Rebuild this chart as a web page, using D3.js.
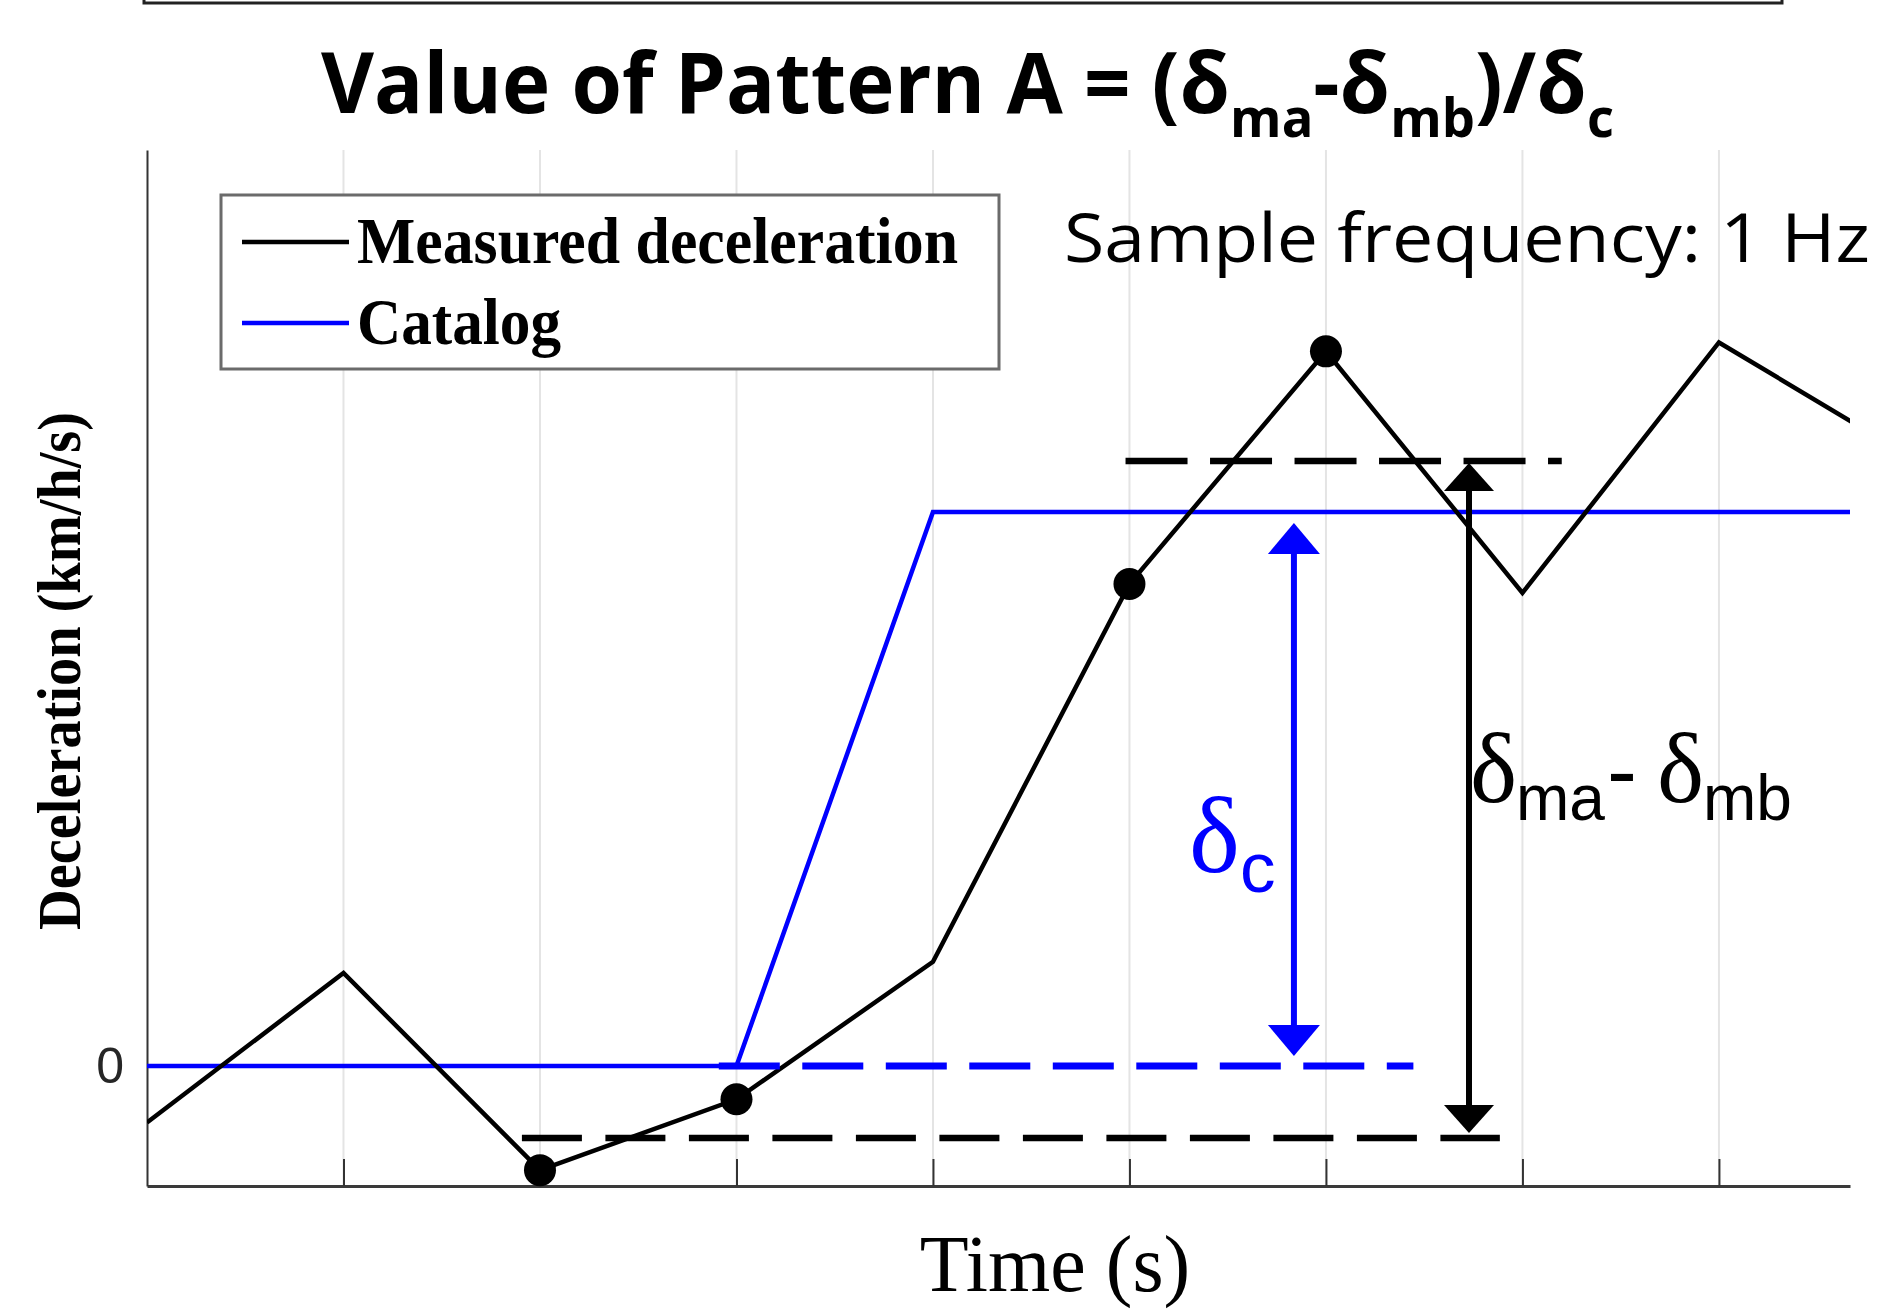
<!DOCTYPE html>
<html><head><meta charset="utf-8">
<script src="https://cdn.jsdelivr.net/npm/d3@7"></script>
<style>body{margin:0;background:#fff} svg{display:block}</style>
</head><body>
<svg id="c" width="1877" height="1310"></svg>
<script>
// ---- data ----
const times = [0, 1, 2, 3, 4, 5, 6, 7, 8, 9];
const measured = [-0.51, 0.84, -0.94, -0.30, 0.94, 4.35, 6.45, 4.27, 6.53, 5.47];
const markerTimes = [2, 3, 5, 6];
const catalogTimes = [0, 3, 4, 9];
const catalog = [0, 0, 5, 5];
const xTicks = [1, 2, 3, 4, 5, 6, 7, 8];
const yTicks = [0];
const deltaMa = 5.46, deltaMb = -0.65, deltaCLow = 0, deltaCHigh = 5;
const maLine = [4.98, 7.2];      // time extent of δma dashed line
const mbLine = [1.908, 6.885];   // time extent of δmb dashed line
const cLine = [2.91, 6.445];     // time extent of catalog-zero dashed line
const arrowCTime = 5.837, arrowMTime = 6.728;
const legendLabels = ["Measured deceleration", "Catalog"];
const legendColors = ["#000000", "#0000ff"];

const svg = d3.select('#c');
const x = d3.scaleLinear().domain([0, 8.667]).range([147, 1850]);
const y = d3.scaleLinear().domain([-1.083, 8.267]).range([1186, 150]);

// top box edge (cropped)
svg.append('rect').attr('x', 144).attr('y', -20).attr('width', 1638).attr('height', 23)
  .attr('fill', 'none').attr('stroke', '#222').attr('stroke-width', 3);

// clip
svg.append('clipPath').attr('id', 'plotclip').append('rect')
  .attr('x', 147).attr('y', 140).attr('width', 1703).attr('height', 1060);

// grid
svg.append('g').selectAll('line').data(xTicks).join('line')
  .attr('x1', d => x(d)).attr('x2', d => x(d)).attr('y1', 150).attr('y2', 1186)
  .attr('stroke', '#e4e4e4').attr('stroke-width', 2);

// axes
const gx = svg.append('g').attr('transform', 'translate(0,1186)')
  .call(d3.axisBottom(x).tickValues(xTicks).tickSize(-27).tickSizeOuter(0).tickFormat(''));
gx.select('.domain').attr('stroke', '#3a3a3a').attr('stroke-width', 3);
gx.selectAll('.tick line').attr('stroke', '#333').attr('stroke-width', 2);

const gy = svg.append('g').attr('transform', 'translate(147,0)')
  .call(d3.axisLeft(y).tickValues(yTicks).tickSize(0).tickSizeOuter(0).tickPadding(23).tickFormat(d3.format('d')));
gy.select('.domain').attr('stroke', '#333').attr('stroke-width', 2);
gy.selectAll('.tick text').attr('font-family', 'Liberation Sans, Arial, sans-serif')
  .attr('font-size', 50).attr('fill', '#262626');

const plot = svg.append('g').attr('clip-path', 'url(#plotclip)');

// catalog line
const catData = catalogTimes.map((t, i) => ({ t, v: catalog[i] }));
const line = d3.line().x(d => x(d.t)).y(d => y(d.v));
plot.append('path').datum(catData).attr('d', line)
  .attr('fill', 'none').attr('stroke', '#0000ff').attr('stroke-width', 4.5);

// dashed reference lines
function hdash(ext, v, color, dash, w) {
  svg.append('line').attr('x1', x(ext[0])).attr('x2', x(ext[1]))
    .attr('y1', y(v)).attr('y2', y(v))
    .attr('stroke', color).attr('stroke-width', w).attr('stroke-dasharray', dash);
}
hdash(cLine, deltaCLow, '#0000ff', '61,22.5', 7);
hdash(maLine, deltaMa, '#000', '62,22.5', 6.5);
hdash(mbLine, deltaMb, '#000', '60,23.5', 6.5);

// measured line
const measData = times.map((t, i) => ({ t, v: measured[i] }));
plot.append('path').datum(measData).attr('d', line)
  .attr('fill', 'none').attr('stroke', '#000').attr('stroke-width', 4.5);

// markers
plot.selectAll('circle.m').data(markerTimes).join('circle').attr('class', 'm')
  .attr('cx', d => x(d)).attr('cy', d => y(measured[times.indexOf(d)]))
  .attr('r', 16).attr('fill', '#000');

// arrows
function vArrow(t, vTop, vBot, insetTop, insetBot, color, headLen, headHalf, w) {
  const ax = x(t), yt = y(vTop) + insetTop, yb = y(vBot) - insetBot;
  svg.append('line').attr('x1', ax).attr('x2', ax).attr('y1', yt + headLen - 2).attr('y2', yb - headLen + 2)
    .attr('stroke', color).attr('stroke-width', w);
  svg.append('path').attr('d', `M${ax},${yt}L${ax - headHalf},${yt + headLen}L${ax + headHalf},${yt + headLen}Z`).attr('fill', color);
  svg.append('path').attr('d', `M${ax},${yb}L${ax - headHalf},${yb - headLen}L${ax + headHalf},${yb - headLen}Z`).attr('fill', color);
}
vArrow(arrowCTime, deltaCHigh, deltaCLow, 11, 10, '#0000ff', 31, 26, 6);
vArrow(arrowMTime, deltaMa, deltaMb, 2, 5, '#000', 28, 25, 6);

// annotation texts
const serif = 'Liberation Serif, Times New Roman, serif';
const sans = 'Liberation Sans, Arial, sans-serif';
const tc = svg.append('text').attr('fill', '#0000ff');
tc.append('tspan').attr('x', 1189).attr('y', 872).attr('font-family', serif).attr('font-size', 108).text('δ');
tc.append('tspan').attr('x', 1240).attr('y', 892).attr('font-family', sans).attr('font-size', 71).text('c');

const tm = svg.append('text').attr('fill', '#000');
tm.append('tspan').attr('x', 1470).attr('y', 802).attr('font-family', serif).attr('font-size', 100).text('δ');
tm.append('tspan').attr('x', 1516).attr('y', 820).attr('font-family', sans).attr('font-size', 64).text('ma');
tm.append('tspan').attr('x', 1607).attr('y', 802).attr('font-family', sans).attr('font-size', 90).text('-');
tm.append('tspan').attr('x', 1657).attr('y', 802).attr('font-family', serif).attr('font-size', 100).text('δ');
tm.append('tspan').attr('x', 1703).attr('y', 820).attr('font-family', sans).attr('font-size', 64).text('mb');

// title
const titleParts = [
  { text: 'Value of Pattern A = (δ', size: 84, shift: 0 },
  { text: 'ma', size: 54, shift: 24 },
  { text: '-δ', size: 84, shift: 0 },
  { text: 'mb', size: 54, shift: 24 },
  { text: ')/δ', size: 84, shift: 0 },
  { text: 'c', size: 54, shift: 24 }
];
const title = svg.append('text').attr('y', 113).attr('x', 0)
  .attr('font-family', 'Open Sans, sans-serif').attr('font-weight', 700).attr('fill', '#000');
let cur = 0;
titleParts.forEach(p => {
  const ts = title.append('tspan').attr('font-size', p.size).text(p.text);
  const dy = p.shift - cur;
  if (dy) ts.attr('dy', dy);
  cur = p.shift;
});
const tw = title.node().getComputedTextLength();
title.attr('transform', `translate(321,0) scale(${1293 / tw},1)`);

// sample frequency
svg.append('text').attr('x', 1064).attr('y', 262).attr('font-family', 'Open Sans, sans-serif')
  .attr('font-size', 68).attr('textLength', 806).attr('lengthAdjust', 'spacingAndGlyphs')
  .attr('fill', '#000').text('Sample frequency: 1 Hz');

// legend
const lg = svg.append('g');
lg.append('rect').attr('x', 221).attr('y', 195).attr('width', 778).attr('height', 174)
  .attr('fill', '#fff').attr('stroke', '#6b6b6b').attr('stroke-width', 3);
const lgY = [242, 323], lgTextY = [263, 344], lgLen = [601, 204];
legendLabels.forEach((lab, i) => {
  lg.append('line').attr('x1', 242).attr('x2', 349).attr('y1', lgY[i]).attr('y2', lgY[i])
    .attr('stroke', legendColors[i]).attr('stroke-width', 4.5);
  lg.append('text').attr('x', 357).attr('y', lgTextY[i]).attr('font-family', serif)
    .attr('font-weight', 700).attr('font-size', 66).attr('textLength', lgLen[i])
    .attr('lengthAdjust', 'spacingAndGlyphs').attr('fill', '#000').text(lab);
});

// axis labels
svg.append('text').attr('transform', 'translate(80,671) rotate(-90)').attr('text-anchor', 'middle')
  .attr('font-family', serif).attr('font-weight', 700).attr('font-size', 62)
  .attr('textLength', 518).attr('lengthAdjust', 'spacingAndGlyphs').attr('fill', '#000')
  .text('Deceleration (km/h/s)');
svg.append('text').attr('x', 1055).attr('y', 1291).attr('text-anchor', 'middle')
  .attr('font-family', serif).attr('font-size', 80).attr('fill', '#000').text('Time (s)');
</script>
</body></html>
